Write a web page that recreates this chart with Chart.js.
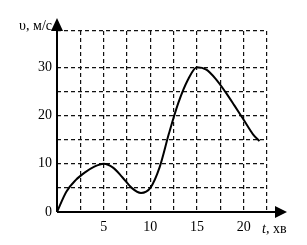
<!DOCTYPE html>
<html>
<head>
<meta charset="utf-8">
<script src="https://cdn.jsdelivr.net/npm/chart.js@4.4.1/dist/chart.umd.min.js"></script>
<style>
  html, body { margin: 0; padding: 0; background: #fff; }
  #c { display: block; }
</style>
</head>
<body>
<canvas id="c" width="307" height="245"></canvas>
<script>
// Time, min
const tValues = [0, 1, 2, 3, 4, 5, 6, 7, 8, 9, 10, 11, 12, 13, 14, 15, 16, 17, 18, 19, 20, 21, 21.7];
// Speed, m/s
const vValues = [0, 4.2, 6.6, 8.2, 9.4, 10, 9.2, 7.2, 5.0, 3.95, 5.0, 9.3, 16.3, 22.6, 27.3, 30, 29.5, 27.6, 25.0, 22.1, 19.1, 16.1, 14.7];
const xTickLabels = [5, 10, 15, 20];
const yTickLabels = [0, 10, 20, 30];
const yAxisTitle = "υ, м/с";
const xAxisTitleVar = "t";
const xAxisTitleUnit = ", хв";

const serif = "'Liberation Serif', 'DejaVu Serif', serif";

const axesPlugin = {
  id: 'axesArrows',
  afterDraw(chart) {
    const ctx = chart.ctx;
    const xs = chart.scales.x, ys = chart.scales.y;
    const x0 = xs.getPixelForValue(0), y0 = ys.getPixelForValue(0);
    const xEnd = xs.right + 20, yEnd = ys.top - 13;
    ctx.save();
    ctx.strokeStyle = '#000';
    ctx.fillStyle = '#000';
    ctx.lineWidth = 2;
    ctx.setLineDash([]);
    ctx.beginPath();
    ctx.moveTo(x0, y0);
    ctx.lineTo(xEnd - 8, y0);
    ctx.moveTo(x0, y0);
    ctx.lineTo(x0, yEnd + 8);
    ctx.stroke();
    // arrowheads
    ctx.beginPath();
    ctx.moveTo(xEnd, y0);
    ctx.lineTo(xEnd - 12, y0 - 6);
    ctx.lineTo(xEnd - 12, y0 + 6);
    ctx.closePath();
    ctx.fill();
    ctx.beginPath();
    ctx.moveTo(x0, yEnd);
    ctx.lineTo(x0 - 6, yEnd + 13);
    ctx.lineTo(x0 + 6, yEnd + 13);
    ctx.closePath();
    ctx.fill();
    // axis titles
    ctx.font = '14px ' + serif;
    ctx.textAlign = 'right';
    ctx.textBaseline = 'alphabetic';
    ctx.fillText(yAxisTitle, x0 - 5, ys.top - 1);
    ctx.textAlign = 'left';
    ctx.font = 'italic 14px ' + serif;
    const tx = xs.right - 5;
    ctx.fillText(xAxisTitleVar, tx, y0 + 21);
    const w = ctx.measureText(xAxisTitleVar).width;
    ctx.font = '14px ' + serif;
    ctx.fillText(xAxisTitleUnit, tx + w, y0 + 21);
    ctx.restore();
  }
};

new Chart(document.getElementById('c'), {
  type: 'line',
  data: {
    datasets: [{
      data: tValues.map((t, i) => ({ x: t, y: vValues[i] })),
      borderColor: '#000',
      borderWidth: 2,
      pointRadius: 0,
      cubicInterpolationMode: 'monotone',
      fill: false
    }]
  },
  options: {
    responsive: false,
    animation: false,
    devicePixelRatio: 1,
    layout: { padding: { left: 0, right: 40, top: 31, bottom: 0 } },
    plugins: { legend: { display: false }, tooltip: { enabled: false } },
    scales: {
      x: {
        type: 'linear',
        min: 0, max: 22.5,
        afterFit(s) { s.height = 33; },
        grid: { color: '#111', lineWidth: 1.2, drawTicks: false },
        border: { display: false, dash: [4, 3] },
        ticks: {
          stepSize: 2.5, autoSkip: false, maxRotation: 0, padding: 7,
          color: '#000', font: { family: serif, size: 14 },
          callback: v => xTickLabels.includes(v) ? String(v) : ''
        }
      },
      y: {
        min: 0, max: 37.5,
        afterFit(s) { s.width = 57; },
        grid: { color: '#111', lineWidth: 1.2, drawTicks: false },
        border: { display: false, dash: [4, 3] },
        ticks: {
          stepSize: 5, autoSkip: false, padding: 5,
          color: '#000', font: { family: serif, size: 14 },
          callback: v => yTickLabels.includes(v) ? String(v) : ''
        }
      }
    }
  },
  plugins: [axesPlugin]
});
</script>
</body>
</html>
